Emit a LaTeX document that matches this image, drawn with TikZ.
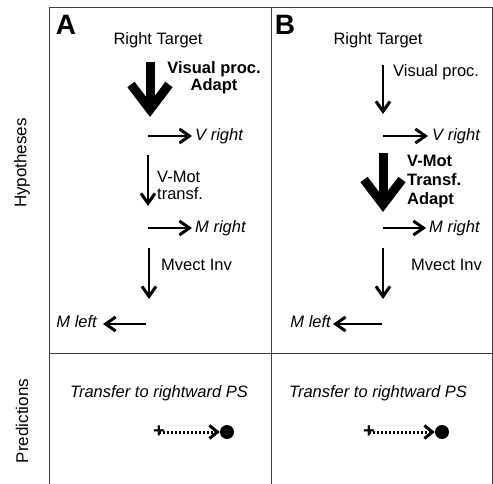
\documentclass[tikz,border=0pt]{standalone}
\usepackage{fontspec}
\setmainfont{Liberation Sans}
\usetikzlibrary{arrows.meta, positioning}
\tikzset{
  txt/.style={inner sep=0pt,font=\fontsize{16.5}{19}\selectfont},
  bigtxt/.style={txt,font=\fontsize{16.5}{19}\selectfont\bfseries},
  vtxt/.style={txt,font=\fontsize{16.5}{19}\selectfont\itshape},
  panel/.style={inner sep=0pt,font=\fontsize{28}{30}\selectfont\bfseries},
  side/.style={txt,rotate=90,font=\fontsize{17}{20}\selectfont},
  frame/.style={line width=1pt,black!75},
  line/.style={line width=2.7pt,-{Straight Barb[length=10pt,width=14pt,line width=3pt]}},
  fatline/.style={line width=9pt},
  fatbarb/.style={line width=9pt,line join=miter,miter limit=10},
  dotline/.style={line width=3pt,dash pattern=on 2pt off 2pt,-{Straight Barb[length=8pt,width=13pt,line width=3pt]}},
  dot/.style={circle,fill,inner sep=0pt,minimum size=14pt},
  plus/.style={inner sep=0pt,font=\fontsize{20}{20}\selectfont\bfseries}
}

\begin{document}
\begin{tikzpicture}[x=1pt,y=-1pt]
\useasboundingbox (0,0) rectangle (493,484);

% grid
\draw[frame] (49,484) -- (49,8) -- (492,8) -- (492,484);
\draw[frame] (271,8) -- (271,484);
\draw[frame] (49,353) -- (492,353);

\node[side] (hyp) at (22,163) {Hypotheses};
\node[side] (pred) at (22,421) {Predictions};

% panel A
\node[panel] (labA) at (66,25) {A};
\node[txt] (rtA) at (158,40) {Right Target};
\node[bigtxt, align=center] (vpA) at (214,78) {Visual proc.\\[-2pt]Adapt};
\node[vtxt, anchor=west] (vrA) at (195,136) {V right};
\node[txt, align=left, anchor=west] (vmA) at (157,185) {V-Mot\\[-2pt]transf.};
\node[vtxt, anchor=west] (mrA) at (195,228) {M right};
\node[txt, anchor=west] (mvA) at (161,265) {Mvect Inv};
\node[vtxt, anchor=east] (mlA) at (97,322) {M left};
\coordinate (a1) at (150,62);
\coordinate (a2) at (150,109.5);
\coordinate (a3) at (148,136);
\coordinate (a4) at (148,155);
\coordinate (a5) at (148,206);
\coordinate (a6) at (148,228);
\coordinate (a7) at (149,248);
\coordinate (a8) at (149,299);
\coordinate (a9) at (146,324);
\draw[fatline] (a1) -- (a2);
\draw[fatbarb] ([shift={(-19,-25)}]a2) -- (a2) -- ([shift={(19,-25)}]a2);
\draw[line, shorten >=3pt] (a3) -- (vrA.west);
\draw[line] (a4) -- (a5);
\draw[line, shorten >=3pt] (a6) -- (mrA.west);
\draw[line] (a7) -- (a8);
\draw[line] (a9) -- ([xshift=6pt]mlA.east |- a9);

\node[vtxt] (tfA) at (159,393) {Transfer to rightward PS};
\node[plus] (plusA) at (159,432) {+};
\node[dot] (dotA) at (227,432) {};
\draw[dotline] (plusA.center) -- (dotA.west);

% panel B
\node[panel] (labB) at (285,25) {B};
\node[txt] (rtB) at (378,40) {Right Target};
\node[txt, anchor=west] (vpB) at (393,72) {Visual proc.};
\node[vtxt, anchor=west] (vrB) at (432,136) {V right};
\node[bigtxt, align=left, anchor=west] (vmB) at (407,182) {V-Mot\\Transf.\\Adapt};
\node[vtxt, anchor=west] (mrB) at (429,228) {M right};
\node[txt, anchor=west] (mvB) at (411,265) {Mvect Inv};
\node[vtxt, anchor=east] (mlB) at (331,322) {M left};
\coordinate (b1) at (383,65);
\coordinate (b2) at (383,114);
\coordinate (b3) at (383,136);
\coordinate (b4) at (383,153);
\coordinate (b5) at (383,204.5);
\coordinate (b6) at (383,228);
\coordinate (b7) at (383,248);
\coordinate (b8) at (383,299);
\coordinate (b9) at (382,324);
\draw[line] (b1) -- (b2);
\draw[line, shorten >=4pt] (b3) -- (vrB.west);
\draw[fatline] (b4) -- (b5);
\draw[fatbarb] ([shift={(-19,-25)}]b5) -- (b5) -- ([shift={(19,-25)}]b5);
\draw[line, shorten >=3pt] (b6) -- (mrB.west);
\draw[line] (b7) -- (b8);
\draw[line] (b9) -- ([xshift=2pt]mlB.east |- b9);

\node[vtxt] (tfB) at (378,393) {Transfer to rightward PS};
\node[plus] (plusB) at (369,432) {+};
\node[dot] (dotB) at (442,432) {};
\draw[dotline] (plusB.center) -- (dotB.west);
\end{tikzpicture}
\end{document}
